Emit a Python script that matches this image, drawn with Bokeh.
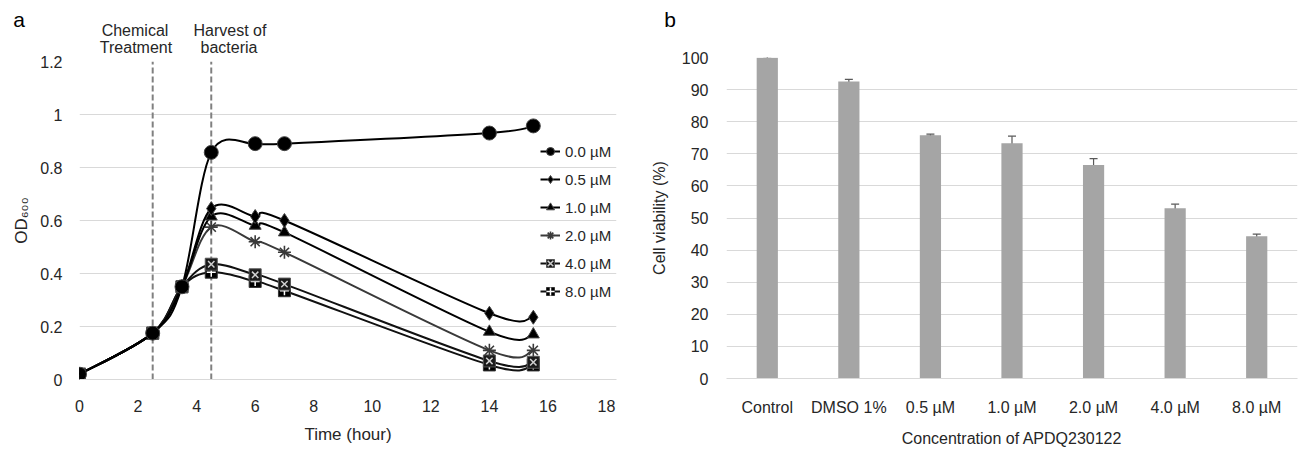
import numpy as np
from bokeh.plotting import figure
from bokeh.layouts import row, column
from bokeh.models import (ColumnDataSource, Legend, LegendItem, Whisker, Div,
                          TeeHead, FixedTicker, NumeralTickFormatter)
from bokeh.embed import file_html
from bokeh.resources import INLINE

FONT = "Liberation Sans"
TXT = "#262626"

# ---------------- Panel a data ----------------
time_h = [0, 2.5, 3.5, 4.5, 6, 7, 14, 15.5]
od_0_0 = [0.02, 0.175, 0.35, 0.857, 0.89, 0.89, 0.93, 0.957]
od_0_5 = [0.02, 0.175, 0.35, 0.645, 0.615, 0.60, 0.25, 0.235]
od_1_0 = [0.02, 0.175, 0.35, 0.615, 0.58, 0.555, 0.18, 0.17]
od_2_0 = [0.02, 0.175, 0.35, 0.575, 0.52, 0.48, 0.11, 0.11]
od_4_0 = [0.02, 0.175, 0.35, 0.435, 0.395, 0.36, 0.07, 0.065]
od_8_0 = [0.02, 0.175, 0.35, 0.405, 0.37, 0.335, 0.055, 0.055]
series_labels = ["0.0 µM", "0.5 µM", "1.0 µM", "2.0 µM", "4.0 µM", "8.0 µM"]
event_times = [2.5, 4.5]
event_text_line1 = ["Chemical", "Harvest of"]
event_text_line2 = ["Treatment", "bacteria"]
od_ticks = [0, 0.2, 0.4, 0.6, 0.8, 1.0, 1.2]
time_ticks = list(range(0, 19, 2))

# ---------------- Panel b data ----------------
conditions = ["Control", "DMSO 1%", "0.5 µM", "1.0 µM", "2.0 µM", "4.0 µM", "8.0 µM"]
viability = [99.9, 92.5, 75.8, 73.3, 66.5, 53.0, 44.3]
viability_err = [0.4, 0.7, 0.3, 2.2, 2.0, 1.3, 0.7]
viability_ticks = list(range(0, 101, 10))


def smooth_segments(xs, ys):
    """Bezier control points (Catmull-Rom style) through the data points."""
    px = [xs[0]] + list(xs) + [xs[-1]]
    py = [ys[0]] + list(ys) + [ys[-1]]
    d = dict(x0=[], y0=[], x1=[], y1=[], cx0=[], cy0=[], cx1=[], cy1=[])
    for i in range(len(xs) - 1):
        p0x, p0y = px[i], py[i]
        p1x, p1y = px[i + 1], py[i + 1]
        p2x, p2y = px[i + 2], py[i + 2]
        p3x, p3y = px[i + 3], py[i + 3]
        d["x0"].append(p1x); d["y0"].append(p1y)
        d["x1"].append(p2x); d["y1"].append(p2y)
        d["cx0"].append(p1x + (p2x - p0x) / 6.0); d["cy0"].append(p1y + (p2y - p0y) / 6.0)
        d["cx1"].append(p2x - (p3x - p1x) / 6.0); d["cy1"].append(p2y - (p3y - p1y) / 6.0)
    return ColumnDataSource(d)


def style_axes(p):
    p.outline_line_color = None
    p.background_fill_color = "white"
    p.border_fill_color = "white"
    for ax in p.axis:
        ax.major_tick_line_color = None
        ax.major_tick_in = 0
        ax.major_tick_out = 0
        ax.minor_tick_line_color = None
        ax.minor_tick_in = 0
        ax.minor_tick_out = 0
        ax.major_label_text_font = FONT
        ax.major_label_text_font_size = "16px"
        ax.major_label_text_color = TXT
        ax.axis_label_text_font = FONT
        ax.axis_label_text_font_size = "16px"
        ax.axis_label_text_font_style = "normal"
        ax.axis_label_text_color = TXT
    p.xaxis.axis_line_color = "#d9d9d9"
    p.yaxis.axis_line_color = None
    p.xgrid.grid_line_color = None
    p.ygrid.grid_line_color = "#d9d9d9"
    p.ygrid.grid_line_width = 1


def span_html(text, left, top, size, color=TXT):
    return ('<span style="position:absolute;left:%dpx;top:%.1fpx;transform:translateX(-50%%);'
            'font-family:\'%s\';font-size:%dpx;line-height:1;white-space:nowrap;color:%s;">%s</span>'
            % (left, top, FONT, size, color, text))


def header_div(width, height, spans):
    html = ('<div style="position:relative;width:%dpx;height:%dpx;overflow:visible;">%s</div>'
            % (width, height, "".join(spans)))
    return Div(text=html, width=width, height=height, margin=0)


# ================= Header for panel a =================
HA_H = 54
ha = header_div(640, HA_H, [
    span_html("a", 19, 8.5, 21, "black"),
    span_html(event_text_line1[0], 135, 22.5, 16),
    span_html(event_text_line1[1], 230, 22.5, 16),
    span_html(event_text_line2[0], 136, 40, 16),
    span_html(event_text_line2[1], 229, 40, 16),
])

# ================= Panel a =================
x_end = 18 * (616 - 79) / (606 - 79)
pa = figure(width=640, height=449 - HA_H, x_range=(0, x_end), y_range=(0, 1.2),
            output_backend="svg", toolbar_location=None,
            min_border_left=79, min_border_right=24, min_border_top=61 - HA_H,
            min_border_bottom=70)
style_axes(pa)
pa.xaxis.ticker = FixedTicker(ticks=time_ticks)
pa.yaxis.ticker = FixedTicker(ticks=od_ticks)
pa.yaxis.formatter = NumeralTickFormatter(format="0.[0]")
pa.xaxis.axis_label = "Time (hour)"
pa.xaxis.axis_label_text_font_size = "17px"
pa.yaxis.axis_label = "OD₆₀₀"
pa.yaxis.axis_label_text_font_size = "17px"
pa.xaxis.major_label_standoff = 20
pa.xaxis.axis_label_standoff = 10
pa.yaxis.major_label_standoff = 17
pa.yaxis.axis_label_standoff = 6

pa.segment(x0=event_times, y0=[od_ticks[0]] * len(event_times),
           x1=event_times, y1=[od_ticks[-1]] * len(event_times),
           line_color="#808080", line_width=2, line_dash="6 3")

series = [od_0_0, od_0_5, od_1_0, od_2_0, od_4_0, od_8_0]
line_colors = ["black", "black", "black", "#3a3a3a", "#111111", "#111111"]
renderers = {}
for idx in [5, 4, 3, 2, 1, 0]:
    ys = series[idx]
    seg = smooth_segments(time_h, ys)
    lr = pa.bezier(x0="x0", y0="y0", x1="x1", y1="y1", cx0="cx0", cy0="cy0",
                   cx1="cx1", cy1="cy1", source=seg,
                   line_color=line_colors[idx], line_width=2)
    src = ColumnDataSource(dict(x=time_h, y=ys))
    mrs = [lr]
    if idx == 0:
        mrs.append(pa.scatter("x", "y", source=src, marker="circle", size=14,
                              fill_color="black", line_color="#444444", line_width=1))
    elif idx == 1:
        mrs.append(pa.scatter("x", "y", source=src, marker="diamond", size=14,
                              fill_color="black", line_color="#444444", line_width=1))
    elif idx == 2:
        mrs.append(pa.scatter("x", "y", source=src, marker="triangle", size=12,
                              fill_color="black", line_color="#444444", line_width=1))
    elif idx == 3:
        mrs.append(pa.scatter("x", "y", source=src, marker="asterisk", size=13,
                              line_color="#3a3a3a", line_width=1.6))
    elif idx == 4:
        mrs.append(pa.scatter("x", "y", source=src, marker="square", size=12,
                              fill_color="#1a1a1a", line_color="#555555", line_width=1))
        mrs.append(pa.scatter("x", "y", source=src, marker="x", size=9,
                              line_color="#d0d0d0", line_width=1.5))
    else:
        mrs.append(pa.scatter("x", "y", source=src, marker="square", size=12,
                              fill_color="black", line_color="#333333", line_width=1))
        mrs.append(pa.scatter("x", "y", source=src, marker="cross", size=9,
                              line_color="white", line_width=1.5))
    renderers[idx] = mrs

items = [LegendItem(label=series_labels[i], renderers=renderers[i]) for i in range(6)]
legend = Legend(items=items, location=(461, 78), orientation="vertical",
                glyph_width=20, glyph_height=20, label_height=20, spacing=8,
                padding=0, margin=0, label_standoff=5,
                label_text_font=FONT, label_text_font_size="15px", label_text_color=TXT,
                background_fill_alpha=0, border_line_color=None)
pa.add_layout(legend, "center")

# ================= Header for panel b =================
HB_H = 30
hb = header_div(661, HB_H, [span_html("b", 30, 8.5, 21, "black")])

# ================= Panel b =================
pb = figure(width=661, height=449 - HB_H, x_range=conditions, y_range=(0, 100),
            output_backend="svg", toolbar_location=None,
            min_border_left=86, min_border_right=4, min_border_top=57 - HB_H,
            min_border_bottom=70)
style_axes(pb)
pb.x_range.range_padding = 0
pb.yaxis.ticker = FixedTicker(ticks=viability_ticks)
pb.xaxis.axis_label = "Concentration of APDQ230122"
pb.yaxis.axis_label = "Cell viability (%)"
pb.xaxis.major_label_standoff = 20
pb.xaxis.axis_label_standoff = 11
pb.yaxis.major_label_standoff = 18
pb.yaxis.axis_label_standoff = 11

bsrc = ColumnDataSource(dict(
    cond=conditions, val=viability,
    upper=[v + e for v, e in zip(viability, viability_err)],
    lower=[v - e for v, e in zip(viability, viability_err)]))
pb.vbar(x="cond", top="val", width=0.26, source=bsrc, fill_color="#a5a5a5", line_color=None)
pb.add_layout(Whisker(source=bsrc, base="cond", upper="upper", lower="lower",
                      line_color="#595959", line_width=1.2,
                      upper_head=TeeHead(size=8, line_color="#595959", line_width=1.2),
                      lower_head=TeeHead(size=8, line_color="#595959", line_width=1.2)))

layout = row(column(ha, pa), column(hb, pb))
open("out.html", "w").write(file_html(layout, INLINE))
